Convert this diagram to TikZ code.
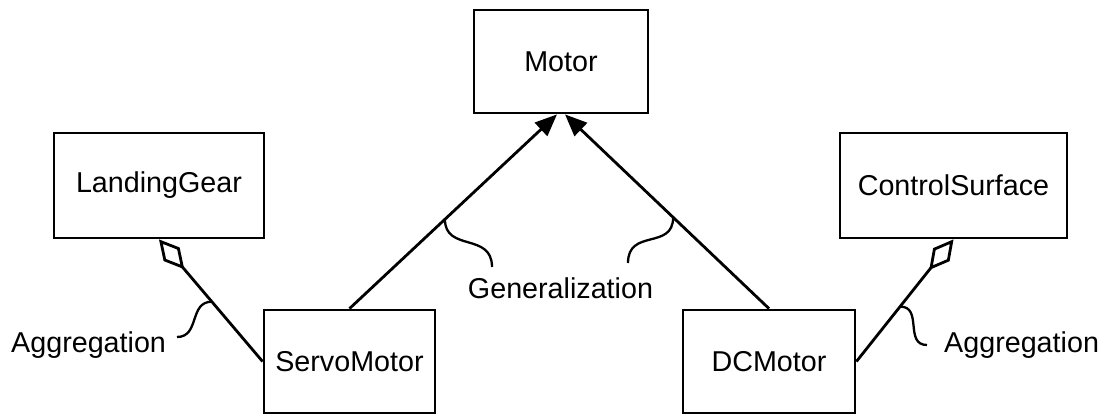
\documentclass[tikz,border=0pt]{standalone}
\usepackage{fontspec}
\setmainfont{Liberation Sans}
\usetikzlibrary{arrows.meta,calc}
\begin{document}
\begin{tikzpicture}[x=1pt,y=-1pt,
  lbl/.style={font=\fontsize{28.7}{34}\selectfont, inner sep=0pt},
  classbox/.style={draw, line width=2.8pt, inner sep=0pt, lbl},
  generalize/.style={line width=2.8pt, -{Triangle[length=22pt,width=18pt]}},
  aggregate/.style={line width=2.8pt, {Diamond[open,length=39pt,width=21pt]}-},
  curly/.style={line width=2.3pt}]
  % canvas
  \fill[white] (0,0) rectangle (1106,415);
  \useasboundingbox (0,0) rectangle (1106,415);

  % classes
  \node[classbox, minimum width=174pt, minimum height=103pt] (motor) at (561,61.5) {Motor};
  \node[classbox, minimum width=210pt, minimum height=105pt] (gear) at (159,185.5) {LandingGear};
  \node[classbox, minimum width=227pt, minimum height=105pt] (surf) at (953.5,185.5) {ControlSurface};
  \node[classbox, minimum width=171pt, minimum height=103pt] (servo) at (349.5,361.5) {ServoMotor};
  \node[classbox, minimum width=172pt, minimum height=103pt] (dc) at (769,361.5) {DCMotor};

  % arrow targets on the base class
  \coordinate (tipL) at ($(motor.south)+(-4,0)$);
  \coordinate (tipR) at ($(motor.south)+(4,0)$);

  % generalization
  \draw[generalize] (servo.north) -- (tipL) coordinate[pos=0.46] (gL);
  \draw[generalize] (dc.north) -- (tipR) coordinate[pos=0.47] (gR);

  % aggregation
  \draw[aggregate] (gear.south) -- (servo.west) coordinate[pos=0.51] (aL);
  \draw[aggregate] (surf.south) -- (dc.east) coordinate[pos=0.55] (aR);

  % labels
  \node[lbl, anchor=base] (genlbl) at (560.5,298) {Generalization};
  \node[lbl, anchor=base west] (agglblL) at (11,352) {Aggregation};
  \node[lbl, anchor=base west] (agglblR) at (944,352) {Aggregation};

  % curly leaders from the labels to the connectors
  \coordinate (gLend) at (492,267);
  \coordinate (gRend) at (628,263);
  \coordinate (aLend) at (177,337);
  \coordinate (aRend) at (927,345);
  \draw[curly] (gL) .. controls ($(gL)+(0,33)$) and ($(gLend)+(0,-35)$) .. (gLend);
  \draw[curly] (gR) .. controls ($(gR)+(0,33)$) and ($(gRend)+(0,-35)$) .. (gRend);
  \draw[curly] (aLend) .. controls ($(aLend)+(23,0)$) and ($(aL)+(-23,0)$) .. (aL);
  \draw[curly] (aR) .. controls ($(aR)+(23,0)$) and ($(aRend)+(-23,0)$) .. (aRend);
\end{tikzpicture}
\end{document}
